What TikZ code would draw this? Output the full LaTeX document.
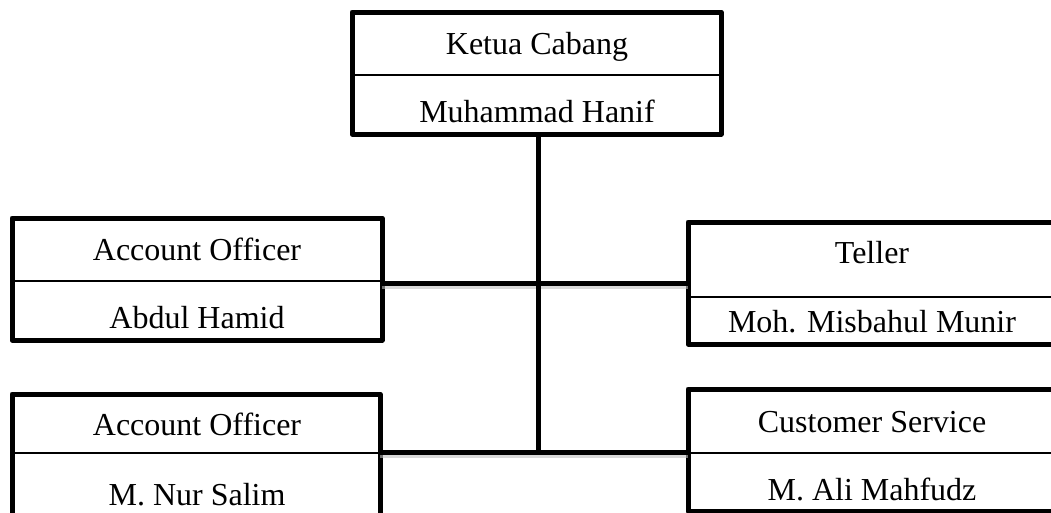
\documentclass[tikz,border=0pt]{standalone}
\usepackage{fontspec}
\setmainfont{Liberation Serif}
\begin{document}
\begin{tikzpicture}[x=1pt,y=-1pt,
  box/.style={draw, line width=5pt, line join=round, inner sep=0pt, outer sep=0pt, anchor=north west, minimum width=369pt, minimum height=122pt},
  divider/.style={draw, line width=1.6pt},
  lbl/.style={anchor=base, inner sep=0pt, font=\fontsize{32}{38}\selectfont},
  conn/.style={line width=5pt, preaction={draw=black!25, line width=6pt, opacity=0.6, transform canvas={yshift=-3pt}}}]
\useasboundingbox (0,0) rectangle (1051,512);
\clip (0,0) rectangle (1051,512);
\fill[white] (0,0) rectangle (1051,512);
% boxes
\node[box] (top) at (352,12) {};
\node[box, minimum width=370pt] (ao1) at (12,218) {};
\node[box, minimum width=368pt] (ao2) at (12,394) {};
\node[box] (tel) at (688,222) {};
\node[box] (cs) at (688,389) {};
% dividers
\draw[divider] ([yshift=-63pt]top.north west) -- ([yshift=-63pt]top.north east);
\draw[divider] ([yshift=-63pt]ao1.north west) -- ([yshift=-63pt]ao1.north east);
\draw[divider] ([yshift=-59pt]ao2.north west) -- ([yshift=-59pt]ao2.north east);
\draw[divider] ([yshift=-75pt]tel.north west) -- ([yshift=-75pt]tel.north east);
\draw[divider] ([yshift=-64pt]cs.north west) -- ([yshift=-64pt]cs.north east);
% texts
\node[lbl] (t1) at (537,54) {Ketua Cabang};
\node[lbl] (t2) at (537,122) {Muhammad Hanif};
\node[lbl] (a1) at (197,260) {Account Officer};
\node[lbl] (a2) at (197,328) {Abdul Hamid};
\node[lbl] (b1) at (197,435) {Account Officer};
\node[lbl] (b2) at (197,505) {M. Nur Salim};
\node[lbl] (c1) at (872,263) {Teller};
\node[lbl] (c2) at (872,332) {Moh. Misbahul Munir};
\node[lbl] (d1) at (872,432) {Customer Service};
\node[lbl] (d2) at (872,500) {M. Ali Mahfudz};
% connectors
\coordinate (j1) at (538,283);
\coordinate (j2) at (538,452);
\draw[conn] (ao1.east |- j1) -- (tel.west |- j1);
\draw[conn] (ao2.east |- j2) -- (cs.west |- j2);
\draw[line width=5pt] ([xshift=1.5pt]top.south) -- (j2);
\end{tikzpicture}
\end{document}
